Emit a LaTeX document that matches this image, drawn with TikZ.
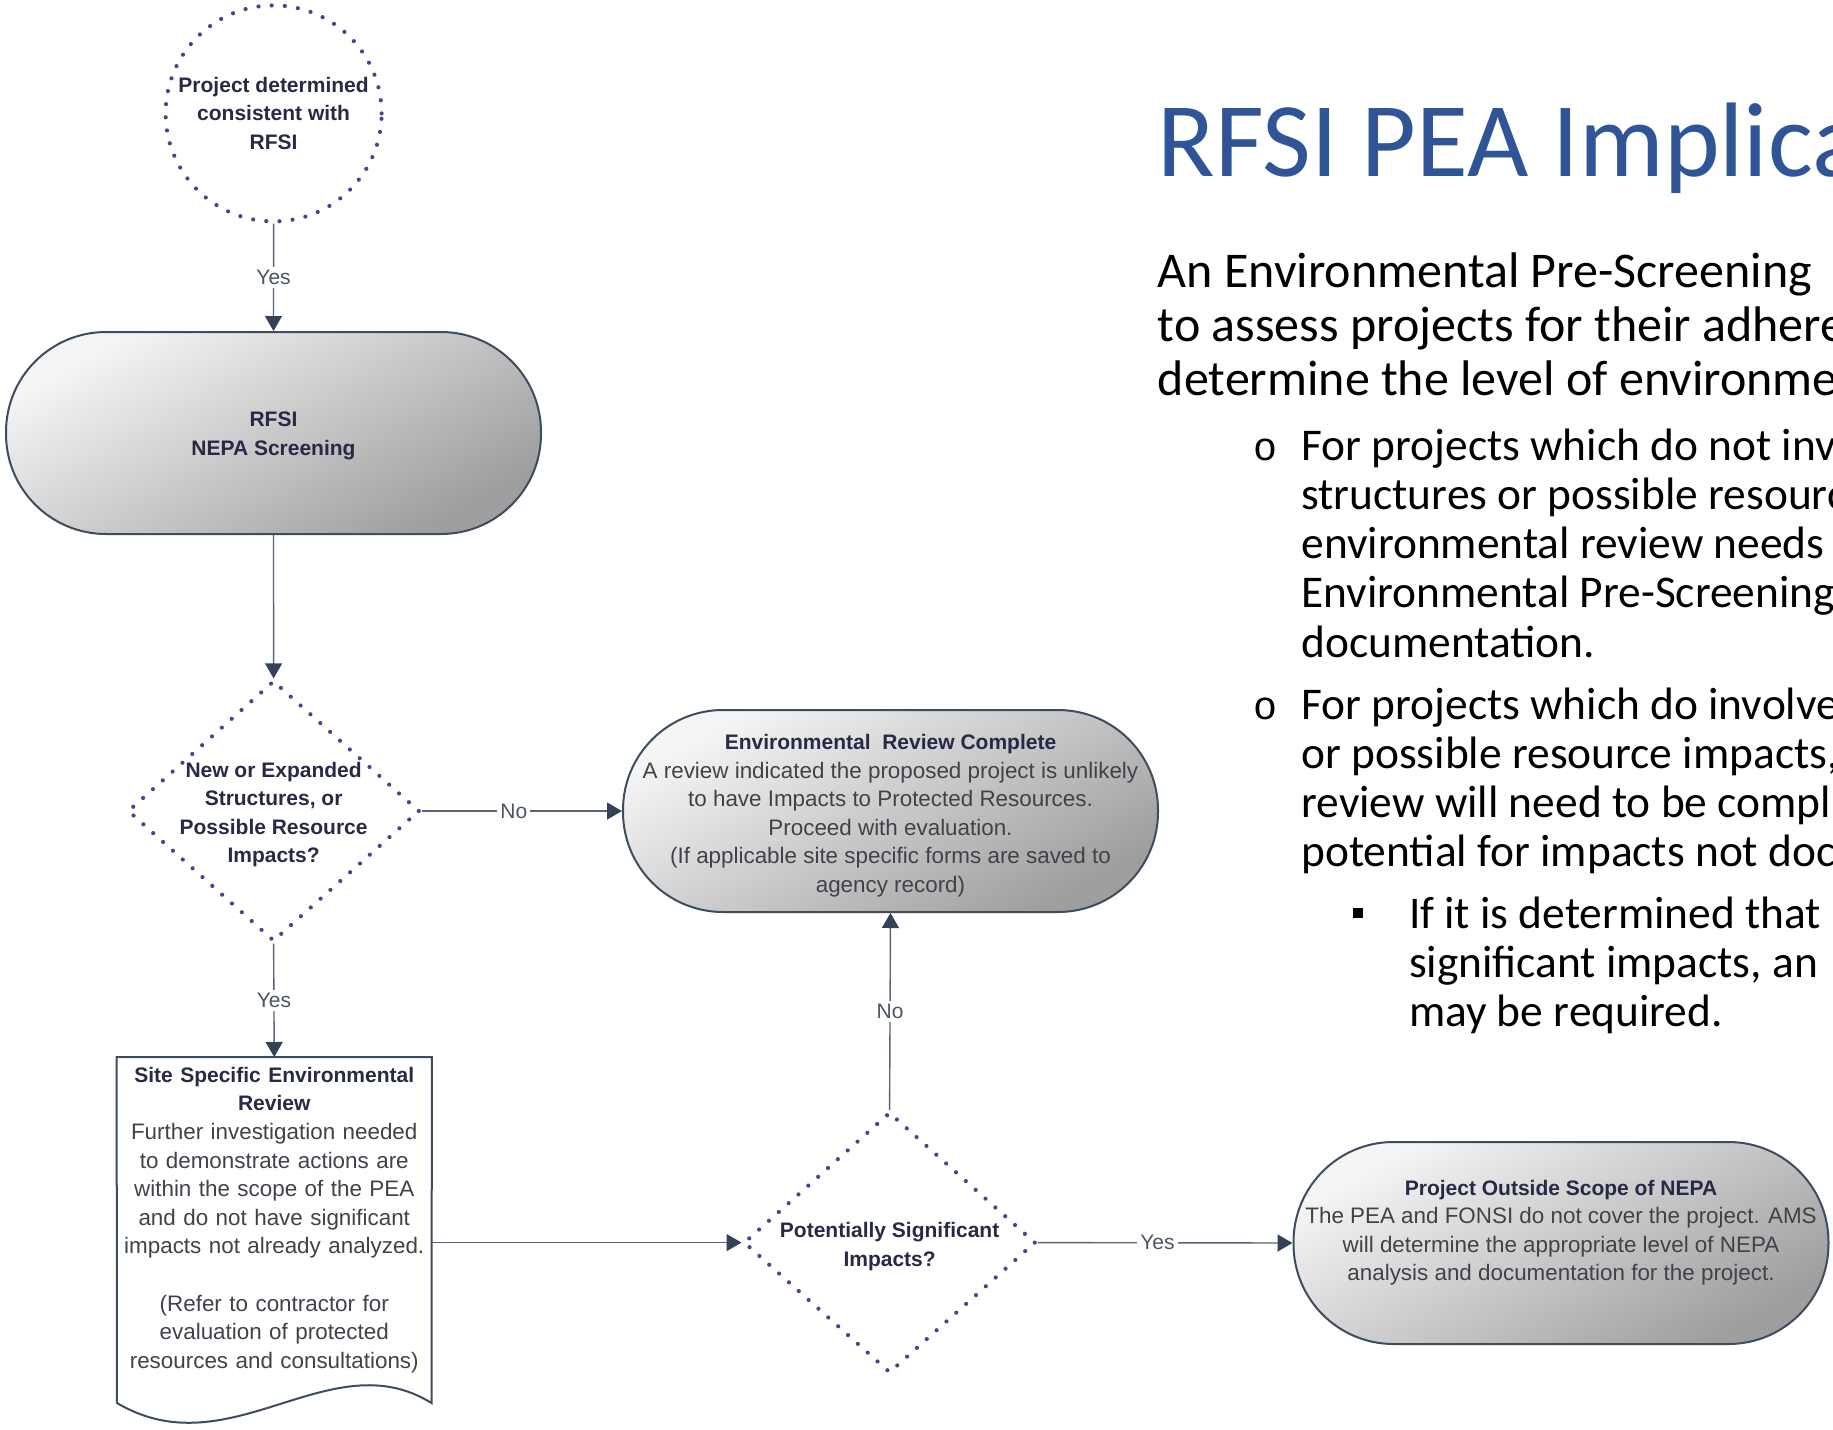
\documentclass[tikz,border=0pt]{standalone}
\usepackage{fontspec}
\setmainfont{Liberation Sans}
\newfontfamily\slidefont{Carlito}
\newfontfamily\bulletfont{Liberation Mono}
\usetikzlibrary{arrows.meta,shapes.geometric}

\definecolor{navy}{RGB}{38,42,70}
\definecolor{bodygray}{RGB}{64,66,74}
\definecolor{linegray}{RGB}{88,100,118}
\definecolor{tipgray}{RGB}{52,66,86}
\definecolor{dotblue}{RGB}{66,72,142}
\definecolor{rimgray}{RGB}{62,76,96}
\definecolor{titleblue}{RGB}{47,85,151}

\newcommand{\headtxt}[1]{{\bfseries\fontsize{10.5}{14.3}\selectfont\color{navy}#1}}
\newcommand{\topgap}[1]{\rule{0pt}{#1}}

\begin{document}
\begin{tikzpicture}[x=0.5pt,y=-0.5pt,
 every node/.style={inner sep=0pt},
 start/.style={circle, draw=dotblue, line width=2.1pt, dash pattern=on 0pt off 6.6pt, line cap=round,
   minimum size=108pt, align=center, text=navy, font=\bfseries\fontsize{10.5}{14.3}\selectfont},
 term/.style={rectangle, draw=rimgray, line width=1pt, rounded corners=50pt,
   top color=black!4, bottom color=black!38, shading angle=30,
   minimum width=267.5pt, minimum height=101pt, align=center, text=bodygray,
   font=\fontsize{11.2}{14.3}\selectfont},
 ask/.style={diamond, draw=dotblue, line width=2.1pt, dash pattern=on 0pt off 6.6pt, line cap=round,
   minimum width=146pt, minimum height=130.5pt, inner sep=-30pt, align=center, text=navy,
   font=\bfseries\fontsize{10.5}{14.3}\selectfont},
 sitebox/.style={text width=157.25pt, inner ysep=4.8pt, align=center, text=bodygray,
   font=\fontsize{11.2}{14.3}\selectfont},
 rim/.style={draw=rimgray, line width=1pt},
 conn/.style={draw=linegray, line width=0.7pt, -{Triangle[length=7.5pt,width=8.5pt,color=tipgray]}},
 yesno/.style={fill=white, text=linegray!85!black, font=\fontsize{10.5}{12}\selectfont, inner sep=1.5pt},
 title/.style={anchor=base west, text=titleblue, font=\slidefont\fontsize{53}{60}\selectfont},
 body/.style={anchor=base west, font=\slidefont\fontsize{25}{27}\selectfont},
 item/.style={anchor=base west, font=\slidefont\fontsize{22.7}{24.5}\selectfont},
 dot/.style={anchor=base, font=\bulletfont\fontsize{20}{24}\selectfont}]

 \useasboundingbox (0,0) rectangle (1833,1430);
 \clip (0,0) rectangle (1833,1430);

 % 流れ図
 \node[start] (begin) at (273.6,113.4) {Project determined\\consistent with\\RFSI}; % 開始の円
 \node[term, text=navy, font=\bfseries\fontsize{10.5}{14.3}\selectfont] (rfsi) at (273.5,433) {\topgap{10pt}RFSI\\NEPA Screening};
 \node[ask] (newq) at (273.6,811) {\topgap{11.1pt}New or Expanded\\Structures, or\\Possible Resource\\Impacts?}; % 判断1
 \node[term] (done) at (890.5,811) {\topgap{12.3pt}\headtxt{Environmental\ \ Review Complete}\\A review indicated the proposed project is unlikely\\to have Impacts to Protected Resources.\\Proceed with evaluation.\\(If applicable site specific forms are saved to\\agency record)};
 \node[sitebox, anchor=north] (site) at (274.25,1057) {\headtxt{Site Specific Environmental\\Review}\\Further investigation needed\\to demonstrate actions are\\within the scope of the PEA\\and do not have significant\\impacts not already analyzed.\\[14.3pt](Refer to contractor for\\evaluation of protected\\resources and consultations)};
 \draw[rim] (site.north west) -- (site.north east) -- (431.5,1403) .. controls (330,1340) and (230,1470) .. (117,1403) -- cycle; % 書類の形
 \node[ask] (sigq) at (889.6,1242.6) {\topgap{11.6pt}Potentially Significant\\Impacts?}; % 判断2
 \node[term] (outside) at (1561,1243) {\topgap{13.5pt}\headtxt{Project Outside Scope of NEPA}\\The PEA and FONSI do not cover the project. AMS\\will determine the appropriate level of NEPA\\analysis and documentation for the project.\\\strut};

 \draw[conn] (begin.south) -- node[yesno] {Yes} (rfsi.north);
 \draw[conn] (rfsi.south) -- (newq.north);
 \draw[conn] (newq.east) -- node[yesno, pos=0.46] {No} (done.west);
 \draw[conn] (newq.south) -- node[yesno] {Yes} (site.north);
 \draw[conn] (site.east |- sigq.west) -- (sigq.west);
 \draw[conn] (sigq.north) -- node[yesno] {No} (done.south);
 \draw[conn] (sigq.east) -- node[yesno, pos=0.47] {Yes} (outside.west);

 % 右側の文章
 \node[title] (head) at (1157.5,176.5) {RFSI PEA Implica};
 \node[body] (p1) at (1157.5,287.6) {An Environmental Pre-Screening};
 \node[body] (p2) at (1157.5,341.4) {to assess projects for their adhere};
 \node[body] (p3) at (1157.5,395.2) {determine the level of environme};

 \node[dot] (o1) at (1265,460.6) {o};
 \node[item] (a1) at (1301,460.6) {For projects which do not inv};
 \node[item] (a2) at (1301,509.7) {structures or possible resourc};
 \node[item] (a3) at (1301,558.8) {environmental review needs};
 \node[item] (a4) at (1301,607.9) {Environmental Pre-Screening};
 \node[item] (a5) at (1301,657) {documentation.};

 \node[dot] (o2) at (1265,719) {o};
 \node[item] (b1) at (1301,719) {For projects which do involve};
 \node[item] (b2) at (1301,768) {or possible resource impacts,};
 \node[item] (b3) at (1301,817) {review will need to be compl};
 \node[item] (b4) at (1301,866) {potential for impacts not doc};

 \fill (1358,913) ++(-5,-5) rectangle ++(10,10); % 四角の点
 \node[item] (c1) at (1408.6,928.2) {If it is determined that};
 \node[item] (c2) at (1408.6,977.3) {significant impacts, an};
 \node[item] (c3) at (1408.6,1026.4) {may be required.};
\end{tikzpicture}
\end{document}
